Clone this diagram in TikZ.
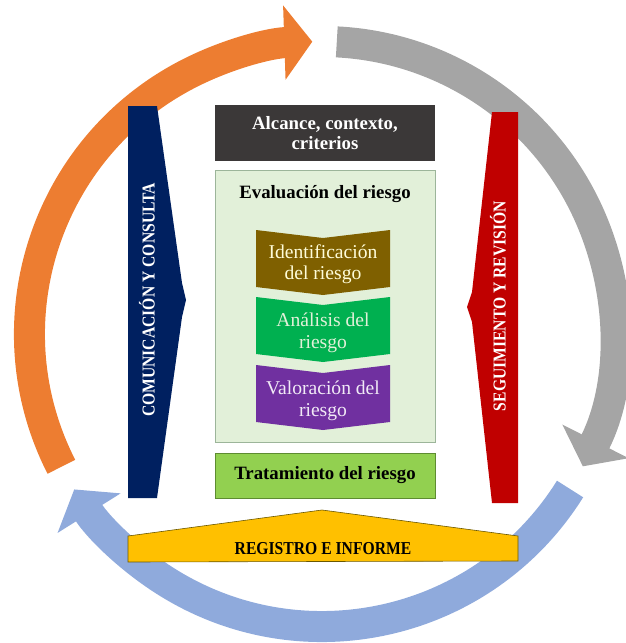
\documentclass[tikz,border=0pt]{standalone}
\usepackage{fontspec}
\setmainfont{Liberation Serif}
\newfontfamily\capsfont{Liberation Serif}[FakeStretch=0.86]
\usetikzlibrary{arrows.meta, positioning, calc}
\definecolor{arcorange}{HTML}{ED7D31}
\definecolor{arcgray}{HTML}{A5A5A5}
\definecolor{arcblue}{HTML}{8FAADC}
\definecolor{navyband}{HTML}{002060}
\definecolor{redband}{HTML}{C00000}
\definecolor{darkbox}{HTML}{3B3838}
\definecolor{evalfill}{HTML}{E2F0D9}
\definecolor{evalline}{HTML}{9CB59A}
\definecolor{idbrown}{HTML}{7F6000}
\definecolor{angreen}{HTML}{00B050}
\definecolor{valpurple}{HTML}{7030A0}
\definecolor{tratgreen}{HTML}{92D050}
\definecolor{tratline}{HTML}{5E8C31}
\definecolor{regyellow}{HTML}{FFC000}
\definecolor{regline}{HTML}{6B5800}
% chevron of the evaluation steps, #1 = top edge, #2 = colour
\newcommand{\chevron}[2]{%
  \fill[#2] (256,#1) -- (323,#1+8) -- (390,#1) -- (390,#1+57) -- (323,#1+65) -- (256,#1+57) -- cycle;}

\begin{document}
\begin{tikzpicture}[x=1pt, y=-1pt,
  ring/.style={line width=31pt, -{Triangle[width=73pt, length=28pt]}},
  bandtext/.style={rotate=90, text=white, font=\capsfont\bfseries\fontsize{18.2}{20}\selectfont},
  boxtext/.style={align=center, inner sep=0pt, font=\bfseries\fontsize{18.8}{20}\selectfont},
  chevtext/.style={align=center, inner sep=0pt, font=\fontsize{19.6}{21.5}\selectfont}]
  \useasboundingbox (0,0) rectangle (626,643);
  \coordinate (c) at (322,334);

  % the three arcs of the cycle
  \draw[ring, arcorange] ($(c)+(153:292.5)$) arc[start angle=153, end angle=268.1, radius=292.5];
  \draw[ring, arcgray] ($(c)+(272.9:292.5)$) arc[start angle=272.9, end angle=386.9, radius=292.5];
  \draw[ring, arcblue] ($(c)+(32:292.5)$) arc[start angle=32, end angle=147.9, radius=292.5];

  % side bands
  \fill[navyband] (128,106) -- (157,106) -- (182,283) -- (186,300) -- (182,317) -- (157,498) -- (128,498) -- cycle;
  \node[bandtext] (comunica) at (147,300) {COMUNICACIÓN Y CONSULTA};
  \fill[redband] (492,112) -- (518,112) -- (518,503) -- (492,503) -- (472,322) -- (467,307) -- (472,292) -- cycle;
  \node[bandtext] (seguim) at (498,306) {SEGUIMIENTO Y REVISIÓN};

  % bottom band
  \fill[regyellow, draw=regline, line width=0.6pt] (128,562) -- (128,536) -- (322,510) -- (518,536) -- (518,561) -- cycle;
  \node[boxtext, font=\capsfont\bfseries\fontsize{18.2}{20}\selectfont] (registro) at (323,549) {REGISTRO E INFORME};

  % central column
  \node[fill=darkbox, minimum width=220pt, minimum height=56pt, text=white, boxtext] (alcance) at (325,133) {Alcance, contexto,\\criterios};
  \node[draw=evalline, fill=evalfill, line width=0.8pt, minimum width=220pt, minimum height=272pt] (evalbox) at (325,306) {};
  \node[boxtext] (evaltitle) at (325,194) {Evaluación del riesgo};

  \chevron{230}{idbrown}
  \chevron{297}{angreen}
  \chevron{365}{valpurple}
  \node[chevtext, text=yellow!15] (ident) at (323,264) {Identificación\\del riesgo};
  \node[chevtext, text=evalfill] (analisis) at (323,333) {Análisis del\\riesgo};
  \node[chevtext, text=valpurple!10] (valora) at (323,401) {Valoración del\\riesgo};

  \node[draw=tratline, fill=tratgreen, line width=0.8pt, minimum width=220pt, minimum height=45pt, boxtext] (trat) at (325,475.5) {Tratamiento del riesgo};
\end{tikzpicture}
\end{document}
